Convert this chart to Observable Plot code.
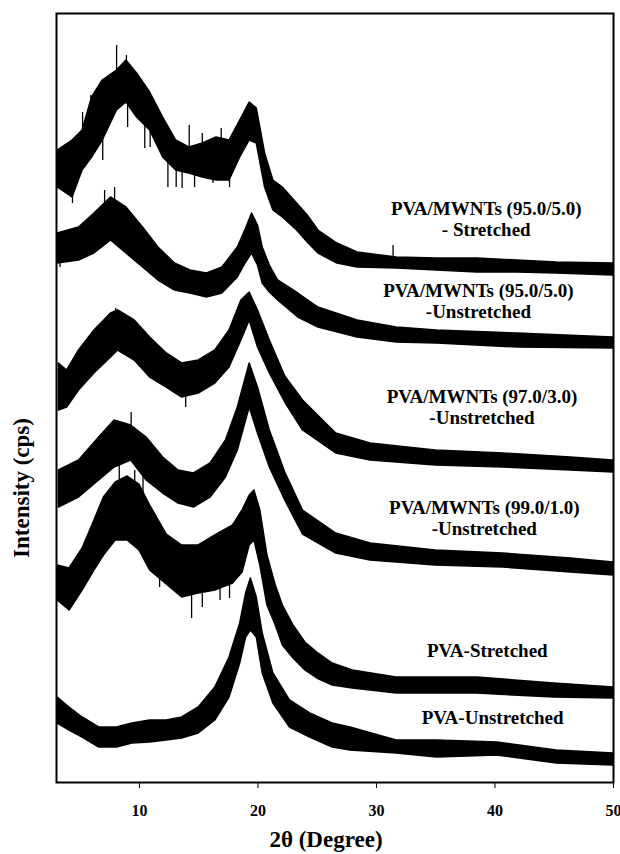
<!DOCTYPE html>
<html><head><meta charset="utf-8">
<script src="https://cdn.jsdelivr.net/npm/d3@7"></script>
<script src="https://cdn.jsdelivr.net/npm/@observablehq/plot@0.6"></script>
<style>body{margin:0;background:#fff}</style>
</head><body><div id="chart"></div>
<script>
// 2θ (degree) positions and upper/lower envelope of each noisy XRD trace (arbitrary intensity, stacked)
const names = [
  "PVA/MWNTs (95.0/5.0) - Stretched",
  "PVA/MWNTs (95.0/5.0) -Unstretched",
  "PVA/MWNTs (97.0/3.0) -Unstretched",
  "PVA/MWNTs (99.0/1.0) -Unstretched",
  "PVA-Stretched",
  "PVA-Unstretched"
];

const x1  = [3.1,4.35,5.2,6.0,6.9,8.1,8.9,9.8,10.9,12.0,13.1,14.2,15.35,16.5,17.6,18.5,19.3,19.9,20.6,21.3,22.1,23.3,24.2,25.1,26.7,28.4,31.7,35.1,38.5,41.9,45.2,50];
const hi1 = [632,642,652,685,702,712,722,709,690,665,642,635,639,645,642,662,680,674,629,602,595,579,567,552,539,530,525,524,524,522,520,519];
const lo1 = [595,585,612,625,642,672,680,665,652,625,612,609,605,602,602,625,642,639,595,572,565,552,540,529,519,515,514,512,510,510,509,507];

const x2  = [3.1,4.9,6.2,7.6,8.9,10.3,11.6,13.0,14.3,15.7,17.0,18.3,19.0,19.5,20.0,20.4,21.0,21.7,23.4,25.1,28.4,31.7,35.1,41.9,50];
const hi2 = [549,555,569,585,575,555,535,519,512,509,515,535,554,569,557,535,517,502,489,475,462,455,452,449,445];
const lo2 = [519,522,529,542,529,515,502,492,489,485,489,505,520,529,517,499,490,482,465,455,445,440,439,435,434];

const x3  = [3.2,3.9,4.9,6.2,7.6,8.2,9.6,10.9,12.3,13.6,15.0,16.4,17.6,18.6,19.3,20.0,21.0,22.3,23.8,26.6,29.5,35,40.7,46.4,50];
const hi3 = [419,412,432,452,469,472,462,445,429,419,422,432,452,482,490,472,442,406,382,349,339,332,329,325,322];
const lo3 = [372,375,392,409,425,432,422,405,395,385,389,399,415,442,462,435,409,380,352,329,322,317,315,312,310];

const x4  = [3.2,4.9,6.6,7.9,9.3,10.6,12.0,13.3,14.6,16.0,17.3,18.3,19.3,20.0,21.0,22.3,23.8,26.6,29.5,35,40.7,46.4,50];
const hi4 = [312,322,345,362,357,345,325,312,309,319,342,375,419,395,352,310,272,249,239,232,229,224,220];
const lo4 = [275,285,302,315,322,302,289,279,275,285,305,332,375,349,315,282,248,229,222,217,215,210,207];

const x5  = [3.1,4.1,5.2,6.2,7.0,8.0,9.0,10.0,10.9,12.3,13.6,15.0,16.4,17.9,18.7,19.3,19.7,20.2,20.8,21.5,22.1,23.0,24.0,25.0,26.3,28.0,31.7,38.5,45.0,50];
const hi5 = [217,214,234,262,285,300,306,298,277,248,237,237,247,257,272,287,292,272,227,197,177,157,140,130,119,112,105,105,99,95];
const lo5 = [182,172,192,212,227,242,242,232,212,198,185,189,192,199,210,237,242,217,177,157,137,124,112,104,97,94,89,89,85,84];

const x6  = [3.1,4.1,5.2,6.6,8.1,9.4,10.9,12.3,13.6,15.0,16.4,17.6,18.5,19.0,19.4,19.9,20.4,21.3,22.7,24.4,26.3,27.8,31.7,35.1,40.2,45.2,50];
const hi6 = [85,75,65,55,55,59,62,62,65,75,95,125,159,189,204,185,149,109,82,69,59,55,42,42,40,32,29];
const lo6 = [59,52,45,35,35,39,40,42,44,49,62,85,119,145,152,145,109,79,55,45,35,32,29,25,27,19,17];

// isolated noise spikes: 2θ, envelope side, spike tip
const spikeX    = [8.07,8.9,6.9,4.35,10.9,13.1,14.2,17.6,5.9,15.3,16.9,12.4,13.6,31.4,5.2,9.0,10.45,14.65,16.2,
                   7.06,7.9,3.3,
                   8.0,13.9,
                   9.3,
                   8.3,9.6,10.3,11.7,14.4,15.3,16.8,17.6];
const spikeFrom = [700,700,650,605,660,620,625,615,660,625,625,620,615,520,640,690,660,615,610,
                   570,570,525,
                   450,390,
                   340,
                   290,290,285,205,190,192,195,199];
const spikeTo   = [737,727,622,579,635,595,657,595,687,649,654,595,594,537,670,655,634,595,599,
                   592,595,515,
                   474,375,
                   370,
                   317,312,307,195,164,175,182,184];

// series annotation positions (2θ, intensity)
const labelText = [
  "PVA/MWNTs (95.0/5.0)\n- Stretched",
  "PVA/MWNTs (95.0/5.0)\n-Unstretched",
  "PVA/MWNTs (97.0/3.0)\n-Unstretched",
  "PVA/MWNTs (99.0/1.0)\n-Unstretched",
  "PVA-Stretched",
  "PVA-Unstretched"
];
const labelX = [39.26, 38.6, 38.9, 39.1, 39.35, 39.8];
const labelY = [564, 482, 376, 265, 132, 65];

const xTicks = [10, 20, 30, 40, 50];

const traces = [[x1,hi1,lo1],[x2,hi2,lo2],[x3,hi3,lo3],[x4,hi4,lo4],[x5,hi5,lo5],[x6,hi6,lo6]];
const rows = traces.flatMap(([xs,hs,ls], k) => xs.map((x,i) => ({series: names[k], x, hi: hs[i], lo: ls[i]})));
const spikes = spikeX.map((x,i) => ({x, from: spikeFrom[i], to: spikeTo[i]}));
const labels = labelText.map((t,i) => ({text: t, x: labelX[i], y: labelY[i]}));

const serif = "'Liberation Serif','Times New Roman',serif";

const chart = Plot.plot({
  width: 620,
  height: 854,
  marginLeft: 56,
  marginRight: 7,
  marginTop: 13,
  marginBottom: 72,
  style: {fontFamily: serif, background: "white", color: "black"},
  x: {domain: [3, 50]},
  y: {domain: [0, 769], axis: null},
  marks: [
    Plot.areaY(rows, {x: "x", y1: "lo", y2: "hi", z: "series", fill: "black", stroke: "black", strokeWidth: 1.5}),
    Plot.ruleX(spikes, {x: "x", y1: "from", y2: "to", stroke: "black", strokeWidth: 1.3}),
    Plot.axisX({ticks: xTicks, tickSize: 6, tickPadding: 16, fontSize: 16, fontWeight: "bold", label: null, tickFormat: d => String(d)}),
    Plot.frame({stroke: "black", strokeWidth: 2}),
    Plot.text(["2θ (Degree)"], {frameAnchor: "bottom", dy: 57, dx: -9, lineAnchor: "middle", textAnchor: "middle", fontSize: 23, fontWeight: "bold"}),
    Plot.text(["Intensity (cps)"], {frameAnchor: "left", dx: -35, dy: 90, rotate: -90, textAnchor: "middle", lineAnchor: "middle", fontSize: 23, fontWeight: "bold"}),
    Plot.text(labels, {x: "x", y: "y", text: "text", fontSize: 19, fontWeight: "bold", lineHeight: 1.1})
  ]
});
document.getElementById("chart").appendChild(chart);
</script>
</body></html>
